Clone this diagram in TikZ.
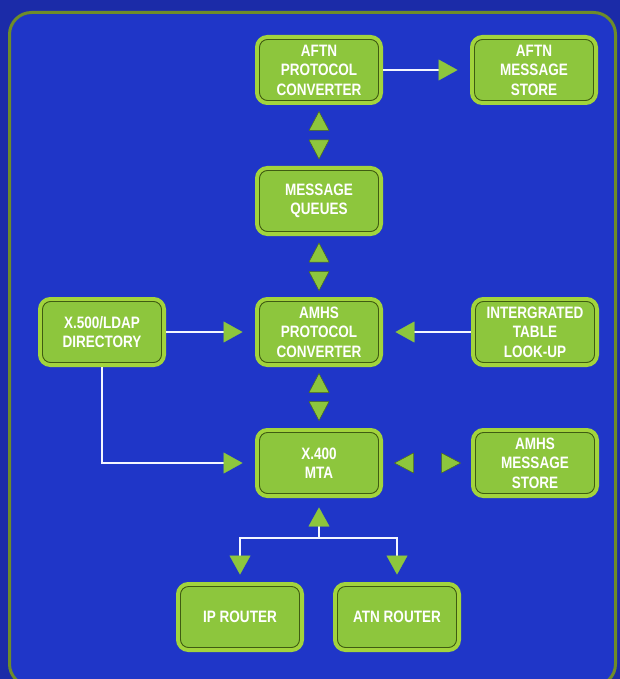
\documentclass[tikz,border=0pt]{standalone}
\usepackage{fontspec}
\setmainfont{Liberation Sans}
\newfontfamily\boxfont[FakeStretch=0.82]{Liberation Sans}
\usetikzlibrary{arrows.meta,calc}
\definecolor{bgouter}{HTML}{1B2BA8}
\definecolor{bginner}{HTML}{1F36C8}
\definecolor{frameol}{HTML}{6E8C2A}
\definecolor{boxrim}{HTML}{A2D43C}
\definecolor{boxfill}{HTML}{8DC63D}
\definecolor{boxline}{HTML}{3F5C12}
\definecolor{trifill}{HTML}{8DC63D}
\definecolor{tridark}{HTML}{4E6E18}
\definecolor{wire}{HTML}{F4F6FF}
\begin{document}
\begin{tikzpicture}[x=1pt,y=-1pt,
  box/.style={preaction={draw=boxrim,line width=9pt}, draw=boxline, line width=0.9pt,
    fill=boxfill, rounded corners=8pt, minimum width=119pt, minimum height=61pt,
    inner sep=0pt, align=center, text=white,
    font=\boxfont\bfseries\fontsize{16.5}{19.5}\selectfont},
  wline/.style={draw=wire, line width=2.7pt,
    -{Triangle[length=19pt,width=21pt,color=trifill,line width=0.4pt]}},
  tri/.pic={\path[fill=trifill, draw=tridark, line width=0.5pt, line join=round]
    (0,-9.5) -- (-10,9.5) -- (10,9.5) -- cycle;}
]
\clip (0,0) rectangle (620,679);
\fill[bgouter] (0,0) rectangle (620,679);
\draw[frameol, line width=3pt, fill=bginner, rounded corners=22pt] (9.5,12.5) rectangle (615.5,686);

\node[box] (aftnpc) at (319,70) {AFTN\\PROTOCOL\\CONVERTER};
\node[box] (aftnms) at (534,70) {AFTN\\MESSAGE\\STORE};
\node[box] (mq) at (319,201) {MESSAGE\\QUEUES};
\node[box] (amhspc) at (319,332) {AMHS\\PROTOCOL\\CONVERTER};
\node[box] (x500) at (102,332) {X.500/LDAP\\DIRECTORY};
\node[box] (itl) at (535,332) {INTERGRATED\\TABLE\\LOOK-UP};
\node[box] (mta) at (319,463) {X.400\\MTA};
\node[box] (amhsms) at (535,463) {AMHS\\MESSAGE\\STORE};
\node[box] (ip) at (240,617) {IP ROUTER};
\node[box] (atn) at (397,617) {ATN ROUTER};

\draw[wline] ([xshift=4.5pt]aftnpc.east) -- ([xshift=-16.5pt]aftnms.west);
\draw[wline] ([xshift=4.5pt]x500.east) -- ([xshift=-16.5pt]amhspc.west);
\draw[wline] ([xshift=-4.5pt]itl.west) -- ([xshift=16.5pt]amhspc.east);
\draw[wline] ([yshift=-4.5pt]x500.south) |- ([xshift=-16.5pt]mta.west);

\coordinate (junc) at (319,538);
\draw[wline] (junc) -- ([yshift=-13.5pt]mta.south);
\draw[wline] (junc) -| ([yshift=11.5pt]ip.north);
\draw[wline] (junc) -| ([yshift=11.5pt]atn.north);

\pic at ($(aftnpc.south)!0.5!(mq.north)+(0,-14.5)$) {tri};
\pic[rotate=180] at ($(aftnpc.south)!0.5!(mq.north)+(0,14)$) {tri};
\pic at ($(mq.south)!0.5!(amhspc.north)+(0,-14)$) {tri};
\pic[rotate=180] at ($(mq.south)!0.5!(amhspc.north)+(0,14.5)$) {tri};
\pic at ($(amhspc.south)!0.5!(mta.north)+(0,-14.5)$) {tri};
\pic[rotate=180] at ($(amhspc.south)!0.5!(mta.north)+(0,13.5)$) {tri};
\pic[rotate=90] at ($(mta.east)!0.5!(amhsms.west)+(-23,0)$) {tri};
\pic[rotate=-90] at ($(mta.east)!0.5!(amhsms.west)+(24,0)$) {tri};
\end{tikzpicture}
\end{document}
